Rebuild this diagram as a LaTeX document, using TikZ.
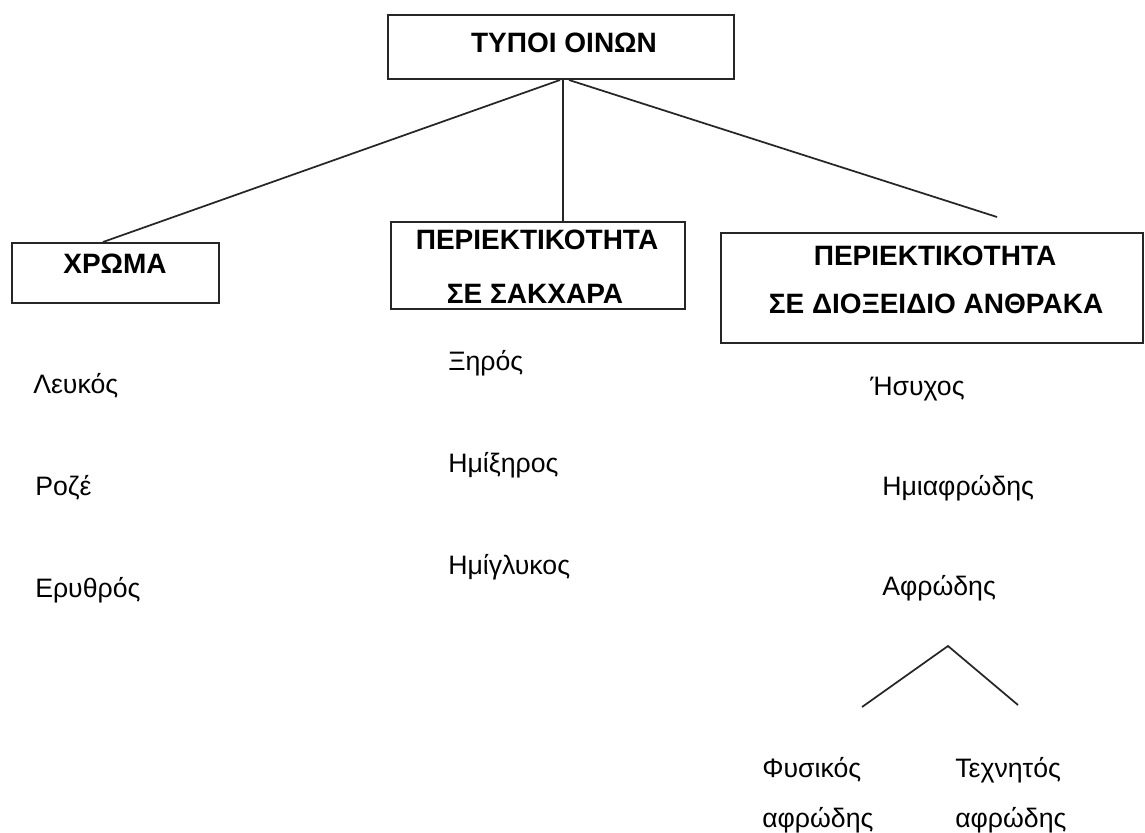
\documentclass[tikz,border=0pt]{standalone}
\usepackage{fontspec}
\setmainfont{Liberation Sans}
\usetikzlibrary{calc}
\begin{document}
\begin{tikzpicture}[x=0.75pt,y=-0.75pt,
  box/.style={draw=black!85, line width=1.5pt, inner sep=0pt, rectangle},
  head/.style={font=\fontsize{21}{25}\selectfont\bfseries, anchor=base, inner sep=0pt},
  item/.style={font=\fontsize{20}{24}\selectfont, anchor=base west, inner sep=0pt},
  link/.style={draw=black!85, line width=1.3pt}]
\useasboundingbox (0,0) rectangle (1145,832);
% boxes
\node[box, minimum width=259.5pt, minimum height=48pt] (top) at (561,47) {};
\node[box, minimum width=155.25pt, minimum height=45pt] (xr) at (115.5,273) {};
\node[box, minimum width=220.5pt, minimum height=65.25pt] (sak) at (538,265.5) {};
\node[box, minimum width=316.5pt, minimum height=82.5pt] (dio) at (932,288) {};
% header texts
\node[head] (t0) at (564,52) {ΤΥΠΟΙ ΟΙΝΩΝ};
\node[head] (t1) at (115,273) {ΧΡΩΜΑ};
\node[head] (t2a) at (537,249) {ΠΕΡΙΕΚΤΙΚΟΤΗΤΑ};
\node[head] (t2b) at (535,303) {ΣΕ ΣΑΚΧΑΡΑ};
\node[head] (t3a) at (935,265) {ΠΕΡΙΕΚΤΙΚΟΤΗΤΑ};
\node[head] (t3b) at (936,313) {ΣΕ ΔΙΟΞΕΙΔΙΟ ΑΝΘΡΑΚΑ};
% items
\node[item] (a1) at (33,393) {Λευκός};
\node[item] (a2) at (35,495) {Ροζέ};
\node[item] (a3) at (35,597) {Ερυθρός};
\node[item] (b1) at (448,370) {Ξηρός};
\node[item] (b2) at (448,472) {Ημίξηρος};
\node[item] (b3) at (448,574) {Ημίγλυκος};
\node[item] (c1) at (870,395) {Ήσυχος};
\node[item] (c2) at (882,495) {Ημιαφρώδης};
\node[item] (c3) at (882,595) {Αφρώδης};
\node[item] (d1) at (762,777) {Φυσικός};
\node[item] (d2) at (762,827) {αφρώδης};
\node[item] (e1) at (955,777) {Τεχνητός};
\node[item] (e2) at (955,827) {αφρώδης};
% connectors
\coordinate (rend) at (997,217);
\draw[link] ($(top.south)+(-1,0)$) -- ($(xr.north)+(-12.5,0)$);
\draw[link] ($(top.south)+(2,0)$) -- ($(sak.north)+(25,0)$);
\draw[link] ($(top.south)+(8,0)$) -- (rend);
\coordinate (apex) at (948,646);
\coordinate (sl) at (862,707);
\coordinate (sr) at (1018,705);
\draw[link] (sl) -- (apex) -- (sr);
\end{tikzpicture}
\end{document}
